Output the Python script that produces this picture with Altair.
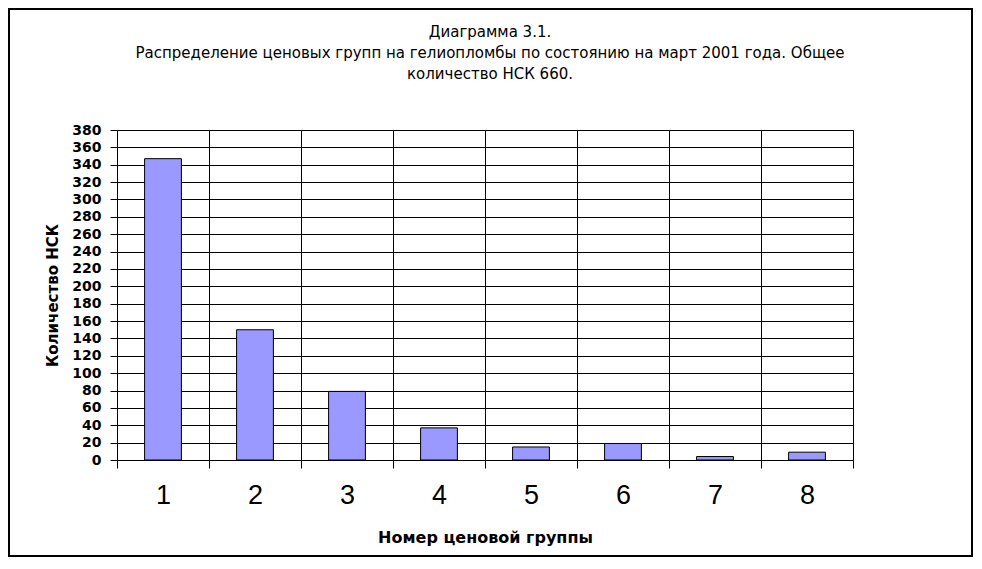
import altair as alt
import pandas as pd

groups = ["1", "2", "3", "4", "5", "6", "7", "8"]
counts = [347, 150, 79, 37, 15, 19, 4, 9]
y_ticks = [0, 20, 40, 60, 80, 100, 120, 140, 160, 180, 200, 220, 240, 260, 280, 300, 320, 340, 360, 380]
title_lines = [
    "Диаграмма 3.1.",
    "Распределение ценовых групп на гелиопломбы по состоянию на март 2001 года. Общее",
    "количество НСК 660.",
]
x_title = "Номер ценовой группы"
y_title = "Количество НСК"

df = pd.DataFrame({"group": groups, "count": counts})

bars = alt.Chart(df).mark_bar(
    width=alt.RelativeBandSize(0.4), color="#9999FF", stroke="black", strokeWidth=1
).encode(
    x=alt.X(
        "group:O",
        sort=groups,
        scale=alt.Scale(paddingInner=0, paddingOuter=0),
        axis=alt.Axis(
            title=x_title,
            labelAngle=0,
            tickBand="extent",
            grid=True,
            gridColor="black",
            gridWidth=1,
            gridOpacity=1,
            domainColor="black",
            tickColor="black",
            tickSize=8,
            labelFont="Liberation Sans",
            labelFontSize=27,
            labelColor="black",
            labelPadding=14,
            titleFont="DejaVu Sans",
            titleFontSize=16,
            titleFontWeight="bold",
            titleColor="black",
            titlePadding=21,
        ),
    ),
    y=alt.Y(
        "count:Q",
        scale=alt.Scale(domain=[0, 380], nice=False),
        axis=alt.Axis(
            title=y_title,
            values=y_ticks,
            grid=True,
            gridColor="black",
            gridWidth=1,
            gridOpacity=1,
            domainColor="black",
            tickColor="black",
            tickSize=7,
            labelFont="DejaVu Sans",
            labelFontSize=14,
            labelFontWeight="bold",
            labelColor="black",
            labelPadding=9,
            titleFont="DejaVu Sans",
            titleFontSize=15,
            titleFontWeight="bold",
            titleColor="black",
            titlePadding=11,
        ),
    ),
)

title_y = [-93, -72, -51]
title_layers = [
    alt.Chart(pd.DataFrame({"t": [line]})).mark_text(
        font="DejaVu Sans", fontSize=15, color="black", align="center", baseline="alphabetic"
    ).encode(text="t:N", x=alt.value(373), y=alt.value(yy))
    for line, yy in zip(title_lines, title_y)
]

frame = alt.Chart(pd.DataFrame({"k": [0]})).mark_rect(
    fill=None, fillOpacity=0, stroke="black", strokeWidth=2
).encode(
    x=alt.value(-108), x2=alt.value(855), y=alt.value(-121), y2=alt.value(426)
)

chart = alt.layer(bars, frame, *title_layers).properties(
    width=736,
    height=330,
    autosize=alt.AutoSizeParams(type="none"),
    padding={"left": 109, "top": 122, "right": 121, "bottom": 98},
    background="white",
).configure_view(stroke="#808080", strokeWidth=1)

chart.save("out.html", embed_options={"renderer": "svg", "actions": False})
